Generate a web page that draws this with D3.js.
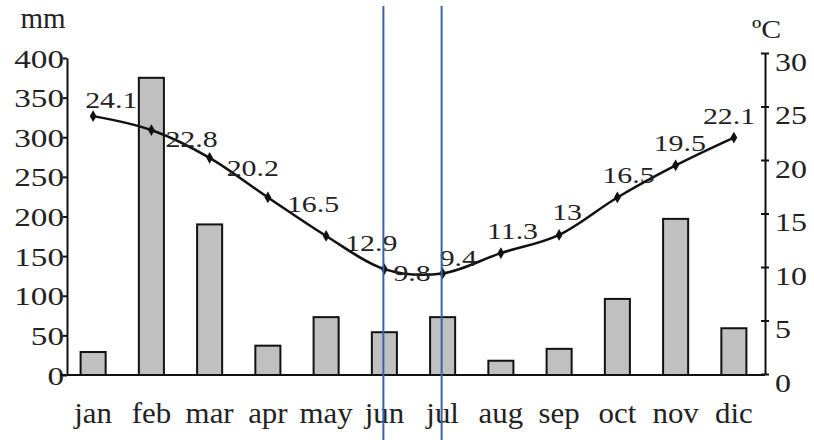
<!DOCTYPE html>
<html>
<head>
<meta charset="utf-8">
<script src="https://cdn.jsdelivr.net/npm/d3@7"></script>
<style>
  body { margin: 0; background: #fff; }
  svg text { font-family: "Liberation Serif", "Times New Roman", serif; fill: #222; }
  .axis path, .axis line { stroke: #111; stroke-width: 2; }
</style>
</head>
<body>
<svg width="814" height="440"></svg>
<script>
// data
var months = ['jan', 'feb', 'mar', 'apr', 'may', 'jun', 'jul', 'aug', 'sep', 'oct', 'nov', 'dic'];
var rainfall = [29, 375, 190, 37, 73, 54, 73, 18, 33, 96, 197, 59];      // mm (bars)
var temperature = [24.1, 22.8, 20.2, 16.5, 12.9, 9.8, 9.4, 11.3, 13, 16.5, 19.5, 22.1]; // °C (line)
var rainTicks = [0, 50, 100, 150, 200, 250, 300, 350, 400];
var tempTicks = [0, 5, 10, 15, 20, 25, 30];
var markedMonths = ['jun', 'jul'];

// label offsets for the temperature values (layout only)
var labelOffset = [[-8, -8], [14, 17], [17, 18], [19, 15], [19, 15], [9, 12],
                   [-3, -7], [-14, -14], [-7, -15], [-15, -14], [-22, -14], [-31, -14]];

var svg = d3.select('svg');

var x = d3.scaleBand()
    .domain(months)
    .range([64, 763])
    .paddingInner(0.57)
    .paddingOuter(0.285);

var yRain = d3.scaleLinear().domain([0, 400]).range([375, 58]);
var yTemp = d3.scaleLinear().domain([0, 30]).range([374, 53]);

function cx(m) { return x(m) + x.bandwidth() / 2; }

// bars
svg.append('g').selectAll('rect')
    .data(months)
    .enter()
    .append('rect')
    .attr('x', d => x(d))
    .attr('width', x.bandwidth())
    .attr('y', (d, i) => yRain(rainfall[i]))
    .attr('height', (d, i) => yRain(0) - yRain(rainfall[i]))
    .attr('fill', '#c0c0c0')
    .attr('stroke', '#111')
    .attr('stroke-width', 2);

// left axis
var leftAxis = svg.append('g')
    .attr('class', 'axis')
    .attr('transform', 'translate(67,0)')
    .call(d3.axisLeft(yRain).tickValues(rainTicks).tickSize(4).tickSizeOuter(0));
leftAxis.selectAll('text')
    .attr('x', 0).attr('dy', null)
    .style('font-size', '25px')
    .attr('text-anchor', 'end')
    .attr('transform', 'translate(-3,9) scale(1.33,1)');

// right axis
var rightAxis = svg.append('g')
    .attr('class', 'axis')
    .attr('transform', 'translate(765,0)')
    .call(d3.axisRight(yTemp).tickValues(tempTicks).tickSizeInner(-4).tickSizeOuter(0));
rightAxis.selectAll('.tick line').attr('x1', -4).attr('x2', 4);
rightAxis.selectAll('text')
    .attr('x', 0).attr('dy', null)
    .style('font-size', '26px')
    .attr('text-anchor', 'start')
    .attr('transform', 'translate(10,17) scale(1.23,1)');

// x axis baseline and month labels
var bottomAxis = svg.append('g')
    .attr('class', 'axis')
    .attr('transform', 'translate(0,375)')
    .call(d3.axisBottom(x).tickSize(0).tickSizeOuter(0));
bottomAxis.select('.domain').attr('d', 'M60,0H765');
bottomAxis.selectAll('text')
    .attr('y', 0).attr('dy', null)
    .style('font-size', '30px')
    .attr('transform', 'translate(0,48) scale(1.03,1)');

// unit labels
svg.append('text')
    .attr('transform', 'translate(43,28)')
    .attr('text-anchor', 'middle')
    .style('font-size', '29px')
    .text('mm');
svg.append('text')
    .attr('transform', 'translate(752,38) scale(1.15,1)')
    .style('font-size', '26px')
    .text('ºC');

// temperature line
var line = d3.line()
    .x((d, i) => cx(months[i]))
    .y(d => yTemp(d))
    .curve(d3.curveCardinal.tension(0));

svg.append('path')
    .datum(temperature)
    .attr('d', line)
    .attr('fill', 'none')
    .attr('stroke', '#111')
    .attr('stroke-width', 2.5);

svg.append('g').selectAll('path')
    .data(temperature)
    .enter()
    .append('path')
    .attr('d', d3.symbol().type(d3.symbolDiamond).size(40))
    .attr('transform', (d, i) => 'translate(' + [cx(months[i]), yTemp(d)] + ')')
    .attr('fill', '#111');

svg.append('g').selectAll('text')
    .data(temperature)
    .enter()
    .append('text')
    .attr('transform', (d, i) => 'translate(' + [cx(months[i]) + labelOffset[i][0], yTemp(d) + labelOffset[i][1]] + ') scale(1.3,1)')
    .style('font-size', '23px')
    .text(d => d);

// blue marker lines for jun and jul
svg.append('g').selectAll('line')
    .data(markedMonths)
    .enter()
    .append('line')
    .attr('x1', d => cx(d) - 1)
    .attr('x2', d => cx(d) - 1)
    .attr('y1', 6)
    .attr('y2', 440)
    .attr('stroke', '#3a62a6')
    .attr('stroke-width', 2);
</script>
</body>
</html>
